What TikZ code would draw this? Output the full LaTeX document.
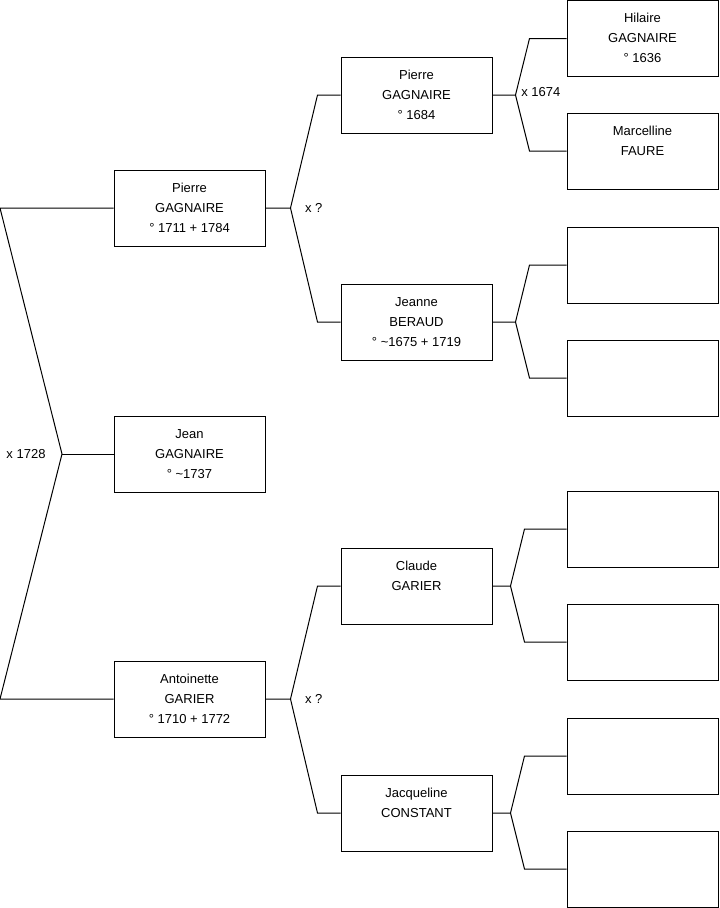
\documentclass[tikz,border=0pt]{standalone}
\usepackage{fontspec}
\setmainfont{Liberation Sans}
\usetikzlibrary{positioning,calc}

% three lines of a person: first name, surname, dates
\newcommand{\indiv}[3]{\strut#1\\\strut#2\\\strut#3}

\begin{document}
\begin{tikzpicture}[x=0.75pt,y=-0.75pt,line width=0.75pt,
  every node/.style={font=\fontsize{9.75}{15}\selectfont},
  person/.style={draw,rectangle,minimum width=113.25pt,minimum height=57pt,align=center,inner sep=0pt},
  mariage/.style={inner sep=0pt}]
\useasboundingbox (0,0) rectangle (719,908);
\coordinate (L) at (0,0);

% generation 1
\node[person] (p1) at (189.5,208) {\indiv{Pierre}{GAGNAIRE}{° 1711 + 1784}};
\node[person] (j)  at (189.5,454) {\indiv{Jean}{GAGNAIRE}{° \textasciitilde1737}};
\node[person] (a1) at (189.5,699) {\indiv{Antoinette}{GARIER}{° 1710 + 1772}};

% generation 2
\node[person] (gp1) at (416.5,95)  {\indiv{Pierre}{GAGNAIRE}{° 1684}};
\node[person] (gp2) at (416.5,322) {\indiv{Jeanne}{BERAUD}{° \textasciitilde1675 + 1719}};
\node[person] (gp3) at (416.5,586) {\indiv{Claude}{GARIER}{}};
\node[person] (gp4) at (416.5,813) {\indiv{Jacqueline}{CONSTANT}{}};

% generation 3
\node[person] (ggp1) at (642.5,38.5) {\indiv{Hilaire}{GAGNAIRE}{° 1636}};
\node[person] (ggp2) at (642.5,151)  {\indiv{Marcelline}{FAURE}{}};
\node[person] (ggp3) at (642.5,265)  {};
\node[person] (ggp4) at (642.5,378)  {};
\node[person] (ggp5) at (642.5,529)  {};
\node[person] (ggp6) at (642.5,642)  {};
\node[person] (ggp7) at (642.5,756)  {};
\node[person] (ggp8) at (642.5,869)  {};

% parents of Jean
\coordinate (m0) at (62,454);
\draw (p1.west) -- (p1.west -| L) -- (m0) -- (a1.west -| L) -- (a1.west);
\draw (m0) -- (j.west);
\node[mariage,left=12pt of m0] {x 1728};

% forks towards the parents
\foreach \pa/\chA/\chB/\df/\dc in {p1/gp1/gp2/25/23, a1/gp3/gp4/25/23,
    gp1/ggp1/ggp2/23/37, gp2/ggp3/ggp4/23/37, gp3/ggp5/ggp6/18/42, gp4/ggp7/ggp8/18/42}
  \draw (\pa.east) -- ++(\df,0) coordinate (f-\pa) -- ($(\chA.west)+(-\dc,0)$) -- (\chA.west)
        (f-\pa) -- ($(\chB.west)+(-\dc,0)$) -- (\chB.west);

\node[mariage,right=10.5pt of f-p1] {x ?};
\node[mariage,right=10.5pt of f-a1] {x ?};
\node[mariage,right=4pt of f-gp1,yshift=2pt] {x 1674};
\end{tikzpicture}
\end{document}
